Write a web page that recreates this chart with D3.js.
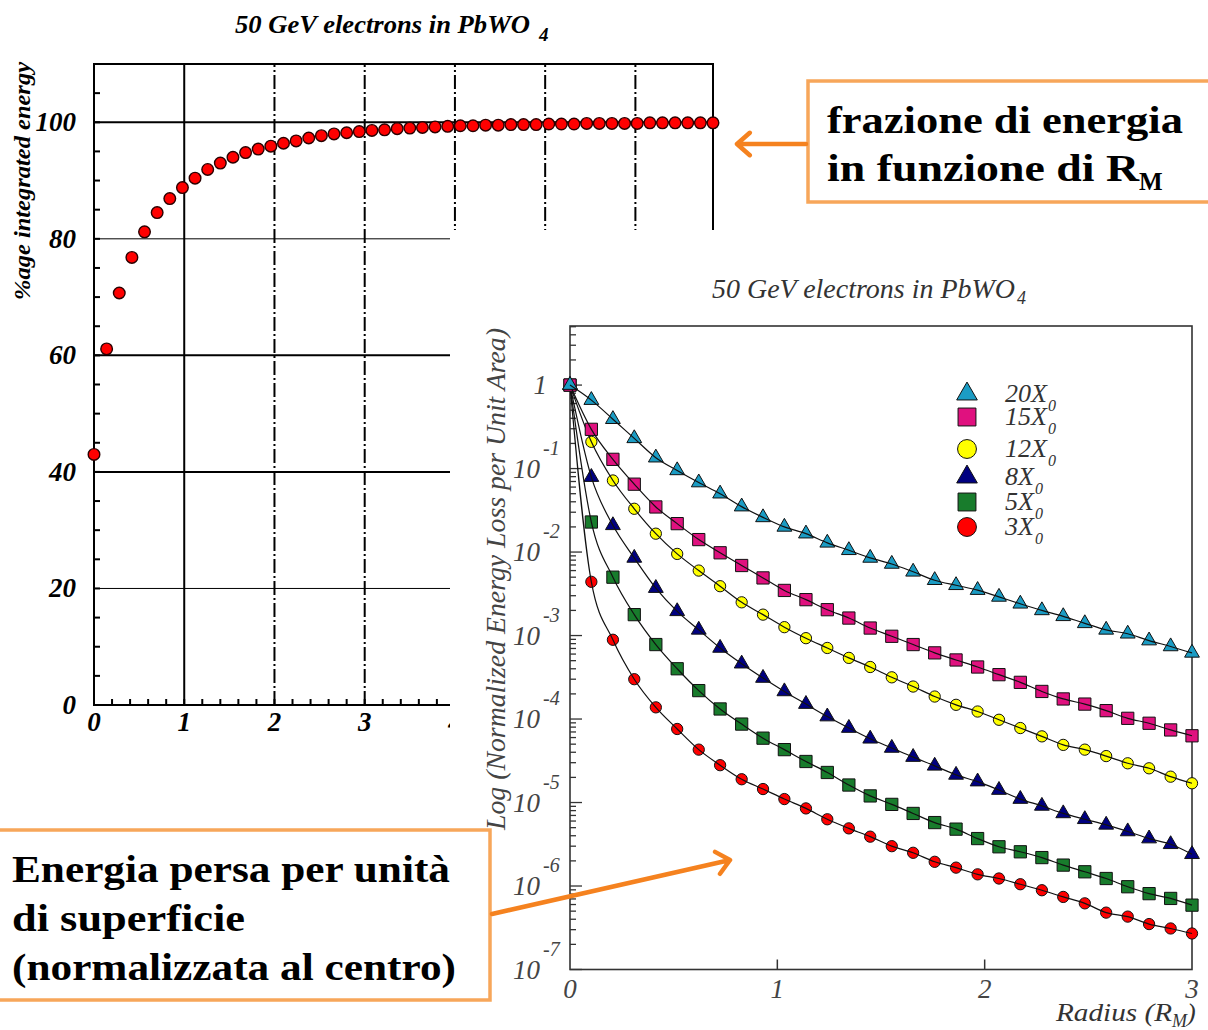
<!DOCTYPE html>
<html>
<head>
<meta charset="utf-8">
<script src="https://cdn.jsdelivr.net/npm/d3@7"></script>
<style>
  body { margin: 0; background: #fff; }
  svg { display: block; }
</style>
</head>
<body>
<svg id="c" width="1208" height="1030"></svg>
<script>
// ---------- integrated energy vs radius (R_M) ----------
const radiusCum = [0, 0.14, 0.28, 0.42, 0.56, 0.70, 0.84, 0.98, 1.12, 1.26,
  1.40, 1.54, 1.68, 1.82, 1.96, 2.10, 2.24, 2.38, 2.52, 2.66,
  2.80, 2.94, 3.08, 3.22, 3.36, 3.50, 3.64, 3.78, 3.92, 4.06,
  4.20, 4.34, 4.48, 4.62, 4.76, 4.90, 5.04, 5.18, 5.32, 5.46,
  5.60, 5.74, 5.88, 6.02, 6.16, 6.30, 6.44, 6.58, 6.72, 6.86];
const integratedEnergy = [43.0, 61.1, 70.7, 76.8, 81.2, 84.5, 86.9, 88.8, 90.4, 91.9,
  93.0, 94.0, 94.8, 95.4, 95.9, 96.4, 96.8, 97.3, 97.7, 98.0,
  98.2, 98.4, 98.6, 98.7, 98.9, 99.0, 99.1, 99.2, 99.3, 99.4,
  99.4, 99.5, 99.5, 99.6, 99.6, 99.6, 99.7, 99.7, 99.7, 99.8,
  99.8, 99.8, 99.8, 99.8, 99.9, 99.9, 99.9, 99.9, 99.9, 99.9];
const cumYLabels = [0, 20, 40, 60, 80, 100];
const cumXLabels = [0, 1, 2, 3, 4];

// ---------- lateral profile per unit area, normalised to the centre ----------
const radiusProfile = [0, 0.103, 0.207, 0.310, 0.414, 0.517, 0.621, 0.724, 0.828, 0.931,
  1.034, 1.138, 1.241, 1.345, 1.448, 1.552, 1.655, 1.759, 1.862, 1.966,
  2.069, 2.172, 2.276, 2.379, 2.483, 2.586, 2.690, 2.793, 2.897, 3.000];
const energy20X0 = [1, 6.6e-1, 3.9e-1, 2.3e-1, 1.35e-1, 9.5e-2, 6.8e-2, 5.0e-2, 3.5e-2, 2.6e-2,
  2.0e-2, 1.66e-2, 1.29e-2, 1.05e-2, 8.5e-3, 7.2e-3, 5.8e-3, 4.6e-3, 4.0e-3, 3.5e-3,
  2.9e-3, 2.4e-3, 2.0e-3, 1.7e-3, 1.4e-3, 1.17e-3, 1.05e-3, 8.7e-4, 7.4e-4, 6.2e-4];
const energy15X0 = [1, 2.95e-1, 1.29e-1, 6.5e-2, 3.47e-2, 2.19e-2, 1.41e-2, 9.8e-3, 6.9e-3, 4.9e-3,
  3.47e-3, 2.69e-3, 2.04e-3, 1.62e-3, 1.23e-3, 9.8e-4, 7.8e-4, 6.2e-4, 5.1e-4, 4.2e-4,
  3.4e-4, 2.75e-4, 2.14e-4, 1.74e-4, 1.51e-4, 1.26e-4, 1.02e-4, 8.9e-5, 7.4e-5, 6.3e-5];
const energy12X0 = [1, 2.09e-1, 7.2e-2, 3.3e-2, 1.66e-2, 9.5e-3, 6.0e-3, 3.9e-3, 2.5e-3, 1.78e-3,
  1.26e-3, 9.3e-4, 7.1e-4, 5.4e-4, 4.2e-4, 3.16e-4, 2.45e-4, 1.86e-4, 1.48e-4, 1.23e-4,
  9.8e-5, 7.8e-5, 6.2e-5, 4.9e-5, 4.3e-5, 3.6e-5, 2.95e-5, 2.57e-5, 2.04e-5, 1.7e-5];
const energy8X0 = [1, 7.9e-2, 2.09e-2, 8.5e-3, 3.7e-3, 1.95e-3, 1.17e-3, 7.1e-4, 4.6e-4, 3.1e-4,
  2.14e-4, 1.51e-4, 1.07e-4, 7.8e-5, 5.8e-5, 4.5e-5, 3.5e-5, 2.75e-5, 2.14e-5, 1.78e-5,
  1.41e-5, 1.1e-5, 9.1e-6, 7.4e-6, 6.3e-6, 5.4e-6, 4.5e-6, 3.7e-6, 3.16e-6, 2.4e-6];
const energy5X0 = [1, 2.29e-2, 5.0e-3, 1.78e-3, 7.8e-4, 4.0e-4, 2.19e-4, 1.32e-4, 8.7e-5, 5.9e-5,
  4.3e-5, 3.1e-5, 2.29e-5, 1.62e-5, 1.2e-5, 9.5e-6, 7.4e-6, 5.75e-6, 4.8e-6, 3.7e-6,
  2.95e-6, 2.57e-6, 2.19e-6, 1.78e-6, 1.48e-6, 1.23e-6, 9.8e-7, 8.1e-7, 7.1e-7, 5.9e-7];
const energy3X0 = [1, 4.4e-3, 8.9e-4, 3.0e-4, 1.38e-4, 7.6e-5, 4.3e-5, 2.8e-5, 1.9e-5, 1.45e-5,
  1.1e-5, 8.5e-6, 6.3e-6, 4.9e-6, 3.9e-6, 3.0e-6, 2.5e-6, 1.95e-6, 1.66e-6, 1.38e-6,
  1.23e-6, 1.05e-6, 8.9e-7, 7.4e-7, 6.2e-7, 4.8e-7, 4.3e-7, 3.5e-7, 3.1e-7, 2.7e-7];
const depthLabels = ["20", "15", "12", "8", "5", "3"];
const profileXLabels = [0, 1, 2, 3];
const profileDecades = [-7, -6, -5, -4, -3, -2, -1, 0];

// ---------- drawing ----------
const svg = d3.select("#c");
const SERIF = "'Liberation Serif', 'Times New Roman', serif";

// ===== integrated energy panel =====
const xL = d3.scaleLinear().domain([0, 6.86]).range([94, 713]);
const yL = d3.scaleLinear().domain([0, 110]).range([705, 64]);
const gL = svg.append("g");

// horizontal grid lines
gL.selectAll("line.hg").data(cumYLabels.filter(v => v > 0)).join("line")
  .attr("x1", xL(0)).attr("x2", xL(6.86))
  .attr("y1", d => yL(d)).attr("y2", d => yL(d))
  .attr("stroke", "#000")
  .attr("stroke-width", d => (d === 80 || d === 20) ? 1 : 2);

// vertical grid lines (first solid, others dash-dotted)
gL.selectAll("line.vg").data([1, 2, 3, 4, 5, 6]).join("line")
  .attr("x1", d => xL(d)).attr("x2", d => xL(d))
  .attr("y1", yL(0)).attr("y2", yL(110))
  .attr("stroke", "#000").attr("stroke-width", 2)
  .attr("stroke-dasharray", d => d === 1 ? null : "14,3,2,3");

// frame
gL.append("path")
  .attr("d", `M${xL(0)},${yL(0)} V${yL(110)} H${xL(6.86)} V${yL(0)} Z`)
  .attr("fill", "none").attr("stroke", "#000").attr("stroke-width", 2);

// minor ticks
gL.selectAll("line.yt").data(d3.range(5, 110, 5)).join("line")
  .attr("x1", xL(0)).attr("x2", xL(0) + 6)
  .attr("y1", d => yL(d)).attr("y2", d => yL(d))
  .attr("stroke", "#000").attr("stroke-width", 2);
gL.selectAll("line.xt").data(d3.range(0.2, 6.8, 0.2)).join("line")
  .attr("x1", d => xL(d)).attr("x2", d => xL(d))
  .attr("y1", yL(0)).attr("y2", yL(0) - 6)
  .attr("stroke", "#000").attr("stroke-width", 2);

// tick labels
gL.selectAll("text.yl").data(cumYLabels).join("text")
  .attr("x", 76).attr("y", d => yL(d) + 9)
  .attr("text-anchor", "end")
  .attr("font-family", SERIF).attr("font-style", "italic").attr("font-weight", "bold")
  .attr("font-size", 27).text(d => d);
gL.selectAll("text.xl").data(cumXLabels).join("text")
  .attr("x", d => xL(d)).attr("y", yL(0) + 26)
  .attr("text-anchor", "middle")
  .attr("font-family", SERIF).attr("font-style", "italic").attr("font-weight", "bold")
  .attr("font-size", 27).text(d => d);

// axis title
gL.append("text")
  .attr("transform", "translate(30,181) rotate(-90)")
  .attr("text-anchor", "middle")
  .attr("font-family", SERIF).attr("font-style", "italic").attr("font-weight", "bold")
  .attr("font-size", 24).attr("textLength", 238).attr("lengthAdjust", "spacingAndGlyphs")
  .text("%age integrated energy");

// data points
gL.selectAll("circle.pt").data(d3.zip(radiusCum, integratedEnergy)).join("circle")
  .attr("cx", d => xL(d[0])).attr("cy", d => yL(d[1])).attr("r", 5.8)
  .attr("fill", "#ff0000").attr("stroke", "#2a0000").attr("stroke-width", 1.4);

// title
const tL = svg.append("text")
  .attr("x", 235).attr("y", 33)
  .attr("font-family", SERIF).attr("font-style", "italic").attr("font-weight", "bold")
  .attr("font-size", 26);
tL.append("tspan").attr("textLength", 295).attr("lengthAdjust", "spacingAndGlyphs")
  .text("50 GeV electrons in PbWO");
tL.append("tspan").attr("dx", 9).attr("dy", 8).attr("font-size", 19).text("4");

// ===== lateral profile panel (sits over the first one) =====
svg.append("rect").attr("x", 450).attr("y", 230).attr("width", 760).attr("height", 800)
  .attr("fill", "#fff");

const xR = d3.scaleLinear().domain([0, 3]).range([570, 1192]);
const yR = d3.scaleLog().domain([1e-7, 5.1]).range([969.5, 326]);
const gR = svg.append("g");
const AX = "#333";

gR.append("rect")
  .attr("x", xR(0)).attr("y", yR(5.1))
  .attr("width", xR(3) - xR(0)).attr("height", yR(1e-7) - yR(5.1))
  .attr("fill", "none").attr("stroke", AX).attr("stroke-width", 1.6);

// log ticks on the left axis
const logTicks = [];
profileDecades.forEach(e => {
  for (let m = 1; m <= 9; m++) {
    const v = m * Math.pow(10, e);
    if (v <= 5.1 && v >= 1e-7) logTicks.push({ v, major: m === 1 });
  }
});
gR.selectAll("line.lt").data(logTicks).join("line")
  .attr("x1", xR(0)).attr("x2", d => xR(0) + (d.major ? 12 : 6))
  .attr("y1", d => yR(d.v)).attr("y2", d => yR(d.v))
  .attr("stroke", AX).attr("stroke-width", 1.3);
gR.selectAll("line.xt").data([1, 2]).join("line")
  .attr("x1", d => xR(d)).attr("x2", d => xR(d))
  .attr("y1", yR(1e-7)).attr("y2", yR(1e-7) - 10)
  .attr("stroke", AX).attr("stroke-width", 1.5);

// y tick labels
const yLab = gR.selectAll("g.ylab").data(profileDecades).join("g")
  .attr("font-family", SERIF).attr("font-style", "italic").attr("fill", "#444");
yLab.filter(d => d === 0).append("text")
  .attr("x", 547).attr("y", d => yR(Math.pow(10, d)) + 9)
  .attr("text-anchor", "end").attr("font-size", 27).text("1");
yLab.filter(d => d !== 0).append("text")
  .attr("x", 540).attr("y", d => yR(Math.pow(10, d)) + 9)
  .attr("text-anchor", "end").attr("font-size", 27).text("10");
yLab.filter(d => d !== 0).append("text")
  .attr("x", 543).attr("y", d => yR(Math.pow(10, d)) - 14)
  .attr("text-anchor", "start").attr("font-size", 20).text(d => "-" + (-d));

// x tick labels
gR.selectAll("text.xl").data(profileXLabels).join("text")
  .attr("x", d => xR(d)).attr("y", yR(1e-7) + 28)
  .attr("text-anchor", "middle")
  .attr("font-family", SERIF).attr("font-style", "italic").attr("fill", "#444")
  .attr("font-size", 27).text(d => d);

// axis titles
const xt = gR.append("text")
  .attr("x", 1056).attr("y", 1021)
  .attr("font-family", SERIF).attr("font-style", "italic").attr("fill", "#333")
  .attr("font-size", 26);
xt.append("tspan").attr("textLength", 116).attr("lengthAdjust", "spacingAndGlyphs")
  .text("Radius (R");
xt.append("tspan").attr("dy", 6).attr("font-size", 18).text("M");
xt.append("tspan").attr("dy", -6).text(")");

gR.append("text")
  .attr("transform", "translate(505,579) rotate(-90)")
  .attr("text-anchor", "middle")
  .attr("font-family", SERIF).attr("font-style", "italic").attr("fill", "#444")
  .attr("font-size", 27).attr("textLength", 502).attr("lengthAdjust", "spacingAndGlyphs")
  .text("Log (Normalized Energy Loss per Unit Area)");

// title
const tR = gR.append("text")
  .attr("x", 712).attr("y", 298)
  .attr("font-family", SERIF).attr("font-style", "italic").attr("fill", "#333")
  .attr("font-size", 27);
tR.append("tspan").attr("textLength", 303).attr("lengthAdjust", "spacingAndGlyphs")
  .text("50 GeV electrons in PbWO");
tR.append("tspan").attr("dy", 6).attr("dx", 2).attr("font-size", 18).text("4");

// series
const series = [
  { label: depthLabels[5], values: energy3X0,  shape: d3.symbolCircle,   color: "#ff0000", size: 100 },
  { label: depthLabels[4], values: energy5X0,  shape: d3.symbolSquare,   color: "#187c2c", size: 150 },
  { label: depthLabels[3], values: energy8X0,  shape: d3.symbolTriangle, color: "#000080", size: 95 },
  { label: depthLabels[2], values: energy12X0, shape: d3.symbolCircle,   color: "#ffff00", size: 100 },
  { label: depthLabels[1], values: energy15X0, shape: d3.symbolSquare,   color: "#e0117f", size: 150 },
  { label: depthLabels[0], values: energy20X0, shape: d3.symbolTriangle, color: "#1b9cc4", size: 95 }
];
const line = d3.line().x(d => xR(d[0])).y(d => yR(d[1])).curve(d3.curveMonotoneX);

series.forEach(s => {
  const pts = d3.zip(radiusProfile, s.values);
  const g = gR.append("g");
  g.selectAll("path.m").data(pts).join("path")
    .attr("transform", d => `translate(${xR(d[0])},${yR(d[1])})`)
    .attr("d", d3.symbol().type(s.shape).size(s.size))
    .attr("fill", s.color).attr("stroke", "#111").attr("stroke-width", 1);
  g.append("path").datum(pts)
    .attr("d", line).attr("fill", "none")
    .attr("stroke", "#111").attr("stroke-width", 1.2);
});

// legend (top-to-bottom: deepest first)
const legendRows = [394, 417, 449, 477, 502, 527];
series.slice().reverse().forEach((s, i) => {
  const y = legendRows[i];
  const size = s.shape === d3.symbolSquare ? 320 : s.shape === d3.symbolCircle ? 280 : 185;
  gR.append("path")
    .attr("transform", `translate(967,${y})`)
    .attr("d", d3.symbol().type(s.shape).size(size))
    .attr("fill", s.color).attr("stroke", "#111").attr("stroke-width", 1);
  const t = gR.append("text")
    .attr("x", 1005).attr("y", y + 8)
    .attr("font-family", SERIF).attr("font-style", "italic").attr("fill", "#333")
    .attr("font-size", 26);
  t.append("tspan").text(s.label + "X");
  t.append("tspan").attr("dy", 9).attr("dx", 1).attr("font-size", 16).text("0");
});

// ===== annotations =====
const ORANGE_BOX = "#f7a65a";
const ORANGE_ARROW = "#f5821f";
const BOLD = "'Liberation Serif', 'Times New Roman', serif";

function arrow(x0, y0, x1, y1) {
  const a = Math.atan2(y1 - y0, x1 - x0);
  const L = 17, w = 0.72;
  const p1 = [x1 - L * Math.cos(a - w), y1 - L * Math.sin(a - w)];
  const p2 = [x1 - L * Math.cos(a + w), y1 - L * Math.sin(a + w)];
  svg.append("path")
    .attr("d", `M${x0},${y0} L${x1},${y1} M${p1[0]},${p1[1]} L${x1},${y1} L${p2[0]},${p2[1]}`)
    .attr("fill", "none").attr("stroke", ORANGE_ARROW).attr("stroke-width", 4.5)
    .attr("stroke-linecap", "round").attr("stroke-linejoin", "round");
}

// top-right note
svg.append("rect").attr("x", 808).attr("y", 81).attr("width", 420).attr("height", 121)
  .attr("fill", "#fff").attr("stroke", ORANGE_BOX).attr("stroke-width", 3.5);
svg.append("text").attr("x", 827).attr("y", 133)
  .attr("font-family", BOLD).attr("font-weight", "bold").attr("font-size", 38)
  .attr("textLength", 356).attr("lengthAdjust", "spacingAndGlyphs")
  .text("frazione di energia");
const t2 = svg.append("text").attr("x", 827).attr("y", 181)
  .attr("font-family", BOLD).attr("font-weight", "bold").attr("font-size", 38);
t2.append("tspan").attr("textLength", 312).attr("lengthAdjust", "spacingAndGlyphs")
  .text("in funzione di R");
t2.append("tspan").attr("dy", 9).attr("font-size", 25).text("M");
arrow(806, 144, 737, 144);

// bottom-left note
svg.append("rect").attr("x", -10).attr("y", 830).attr("width", 500).attr("height", 170)
  .attr("fill", "#fff").attr("stroke", ORANGE_BOX).attr("stroke-width", 3.5);
[["Energia persa per unità", 882, 438],
 ["di superficie", 931, 233],
 ["(normalizzata al centro)", 980, 444]].forEach(([txt, y, w]) => {
  svg.append("text").attr("x", 12).attr("y", y)
    .attr("font-family", BOLD).attr("font-weight", "bold").attr("font-size", 38)
    .attr("textLength", w).attr("lengthAdjust", "spacingAndGlyphs")
    .text(txt);
});
arrow(492, 914, 730, 860);
</script>
</body>
</html>
